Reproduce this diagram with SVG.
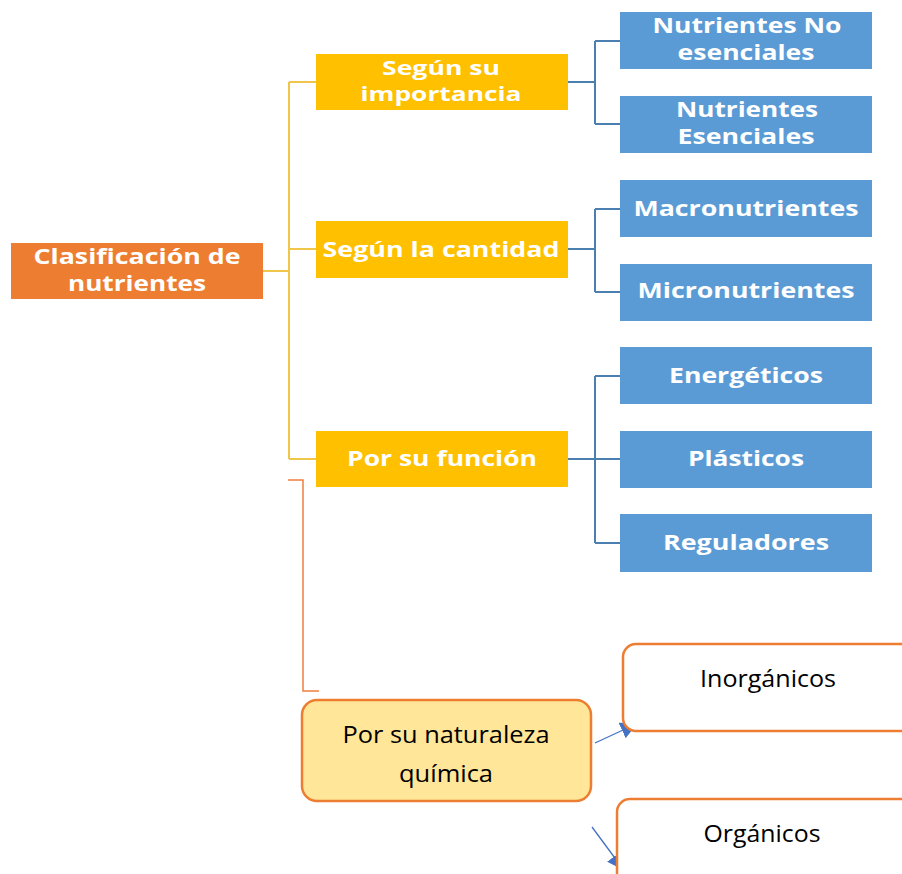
<svg xmlns="http://www.w3.org/2000/svg" width="902" height="874" viewBox="0 0 902 874">
<defs>
<style>
.root{fill:#ED7D31}
.lvl2{fill:#FFC000}
.leaf{fill:#5B9BD5}
.bt{font-family:"Open Sans","Liberation Sans",sans-serif;font-weight:bold;fill:#FFFFFF;text-anchor:middle}
.nt{font-family:"Open Sans","Liberation Sans",sans-serif;fill:#000000;text-anchor:middle;font-size:24px}
.yl{fill:none;stroke:#EFC64A;stroke-width:2}
.bl{fill:none;stroke:#4A7FB0;stroke-width:2}
.ol{fill:none;stroke:#F07F3C;stroke-width:1.5}
.ar{fill:none;stroke:#4472C4;stroke-width:1.3}
.rb{stroke:#ED7D31;stroke-width:2.5}
</style>
<marker id="ah" viewBox="0 0 10 10" refX="9" refY="5" markerWidth="17" markerHeight="17" markerUnits="userSpaceOnUse" orient="auto">
<path d="M0,0 L10,5 L0,10 Z" fill="#4472C4"/>
</marker>
</defs>
<rect width="902" height="874" fill="#FFFFFF"/>

<g id="connectors">
<path class="yl" d="M263,271 H289 M289,82 V459 M289,82 H316 M289,249 H316 M289,459 H316"/>
<path class="bl" d="M568,82 H595 M595,41 V124 M595,41 H620 M595,124 H620"/>
<path class="bl" d="M568,249 H595 M595,209 V292 M595,209 H620 M595,292 H620"/>
<path class="bl" d="M568,459 H620 M595,376 V543 M595,376 H620 M595,543 H620"/>
<path class="ol" d="M288,480 H303 V691 H319"/>
<line class="ar" x1="595" y1="743" x2="636" y2="724" marker-end="url(#ah)"/>
<line class="ar" x1="592" y1="827" x2="623" y2="869" marker-end="url(#ah)"/>
</g>

<g id="root">
<rect class="root" x="11" y="243" width="252" height="56"/>
<text class="bt" x="137" y="264" font-size="21" textLength="207" lengthAdjust="spacingAndGlyphs">Clasificación de</text>
<text class="bt" x="137" y="291" font-size="21" textLength="138" lengthAdjust="spacingAndGlyphs">nutrientes</text>
</g>

<g id="importancia">
<rect class="lvl2" x="316" y="54" width="252" height="56"/>
<text class="bt" x="441" y="75" font-size="20" textLength="118" lengthAdjust="spacingAndGlyphs">Según su</text>
<text class="bt" x="441" y="101" font-size="20" textLength="161" lengthAdjust="spacingAndGlyphs">importancia</text>
</g>

<g id="cantidad">
<rect class="lvl2" x="316" y="221" width="252" height="57"/>
<text class="bt" x="441" y="257" font-size="21" textLength="237" lengthAdjust="spacingAndGlyphs">Según la cantidad</text>
</g>

<g id="funcion">
<rect class="lvl2" x="316" y="431" width="252" height="56"/>
<text class="bt" x="442" y="466" font-size="21" textLength="190" lengthAdjust="spacingAndGlyphs">Por su función</text>
</g>

<g id="noesenciales">
<rect class="leaf" x="620" y="12" width="252" height="57"/>
<text class="bt" x="747" y="33" font-size="21" textLength="189" lengthAdjust="spacingAndGlyphs">Nutrientes No</text>
<text class="bt" x="746" y="60" font-size="21" textLength="137" lengthAdjust="spacingAndGlyphs">esenciales</text>
</g>

<g id="esenciales">
<rect class="leaf" x="620" y="96" width="252" height="57"/>
<text class="bt" x="747" y="117" font-size="21" textLength="142" lengthAdjust="spacingAndGlyphs">Nutrientes</text>
<text class="bt" x="746" y="144" font-size="21" textLength="137" lengthAdjust="spacingAndGlyphs">Esenciales</text>
</g>

<g id="macro">
<rect class="leaf" x="620" y="180" width="252" height="57"/>
<text class="bt" x="746" y="216" font-size="22" textLength="225" lengthAdjust="spacingAndGlyphs">Macronutrientes</text>
</g>

<g id="micro">
<rect class="leaf" x="620" y="264" width="252" height="57"/>
<text class="bt" x="746" y="298" font-size="22" textLength="217" lengthAdjust="spacingAndGlyphs">Micronutrientes</text>
</g>

<g id="energeticos">
<rect class="leaf" x="620" y="347" width="252" height="57"/>
<text class="bt" x="746" y="383" font-size="22" textLength="154" lengthAdjust="spacingAndGlyphs">Energéticos</text>
</g>

<g id="plasticos">
<rect class="leaf" x="620" y="431" width="252" height="57"/>
<text class="bt" x="746" y="466" font-size="22" textLength="116" lengthAdjust="spacingAndGlyphs">Plásticos</text>
</g>

<g id="reguladores">
<rect class="leaf" x="620" y="514" width="252" height="58"/>
<text class="bt" x="746" y="550" font-size="22" textLength="166" lengthAdjust="spacingAndGlyphs">Reguladores</text>
</g>

<g id="naturaleza">
<rect x="302" y="700" width="289" height="101" rx="15" fill="#FFE699" class="rb"/>
<text class="nt" x="446" y="743" textLength="207" lengthAdjust="spacingAndGlyphs">Por su naturaleza</text>
<text class="nt" x="446" y="782" textLength="94" lengthAdjust="spacingAndGlyphs">química</text>
</g>

<g id="inorganicos">
<rect x="623" y="644" width="300" height="87" rx="13" fill="#FFFFFF" class="rb"/>
<text class="nt" x="768" y="687" textLength="136" lengthAdjust="spacingAndGlyphs">Inorgánicos</text>
</g>

<g id="organicos">
<rect x="617" y="799" width="300" height="100" rx="13" fill="#FFFFFF" class="rb"/>
<text class="nt" x="762" y="842" textLength="117" lengthAdjust="spacingAndGlyphs">Orgánicos</text>
</g>
</svg>
